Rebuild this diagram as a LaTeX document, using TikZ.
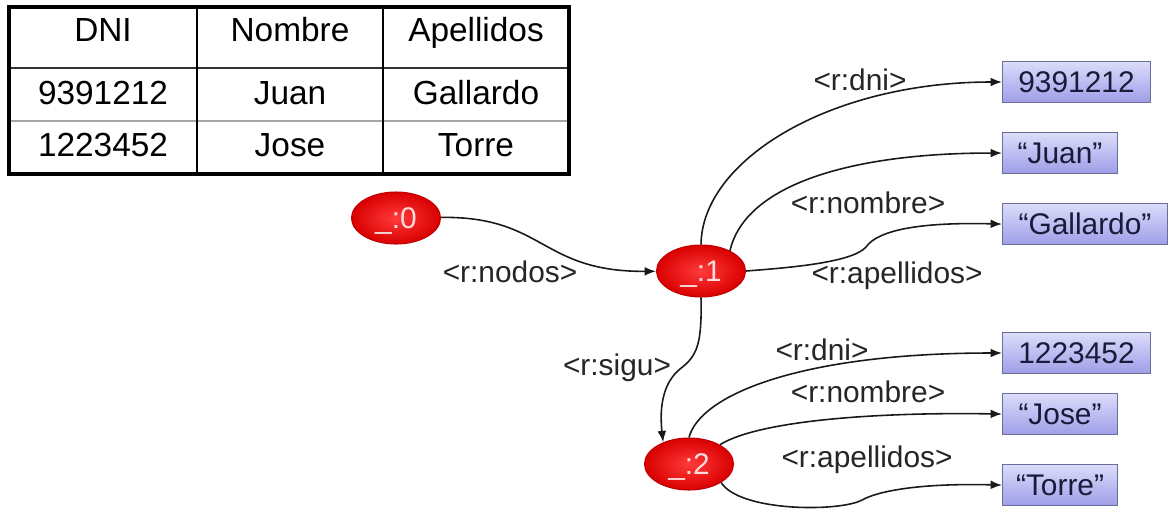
\documentclass[tikz,border=0pt]{standalone}
\usepackage{fontspec}
\setmainfont{Liberation Sans}
\usepackage{tikz}
\usetikzlibrary{arrows.meta, positioning, shapes.geometric}
\definecolor{blankred}{HTML}{D90000}
\definecolor{blanklight}{HTML}{FF3B3B}
\definecolor{blankborder}{HTML}{C00000}
\definecolor{blankink}{HTML}{FFDADA}
\definecolor{littop}{HTML}{DCDCFA}
\definecolor{litbottom}{HTML}{9E9EE8}
\definecolor{litborder}{HTML}{6C6C9C}
\definecolor{litink}{HTML}{1A1A3A}

\begin{document}
\begin{tikzpicture}[
		x=0.02cm, y=-0.02cm,
		texts/.style = {text=black, font=\fontsize{17}{20}\selectfont},
		celltexts/.style = {texts, font=\fontsize{19}{22}\selectfont, anchor=base, inner sep=0pt},
		labeltexts/.style = {texts, text=black!85, anchor=base, inner sep=0pt},
		blanknode/.style = {ellipse, minimum width=1.78cm, minimum height=1.04cm, inner sep=0pt, text depth=0pt, draw=blankborder, line width=0.6pt, inner color=blanklight, outer color=blankred, texts, text=blankink},
		literal/.style = {rectangle, minimum height=0.82cm, inner sep=0pt, text depth=0pt, draw=litborder, line width=0.6pt, top color=littop, bottom color=litbottom, texts, text=litink},
		link/.style = {draw=black!90, line width=0.9pt, -{Latex[length=6.5pt, width=5pt]}}
		]
		\useasboundingbox (0,0) rectangle (1168,511);
		
		\draw[line width=1pt, black!80] (9,68) -- (569,68);
		\draw[line width=0.8pt, black!35] (9,121) -- (569,121);
		\draw[line width=1pt] (197,7) -- (197,174);
		\draw[line width=1pt] (383,7) -- (383,174);
		\draw[line width=1.8pt] (9,7) rectangle (569,174);
		
		\node [celltexts] (hdni) at (103,41) {DNI};
		\node [celltexts] (hnombre) at (290,41) {Nombre};
		\node [celltexts] (hapellidos) at (476,41) {Apellidos};
		\node [celltexts] (cdniA) at (103,104) {9391212};
		\node [celltexts] (cnombreA) at (290,104) {Juan};
		\node [celltexts] (capellidosA) at (476,104) {Gallardo};
		\node [celltexts] (cdniB) at (103,156) {1223452};
		\node [celltexts] (cnombreB) at (290,156) {Jose};
		\node [celltexts] (capellidosB) at (476,156) {Torre};
		
		\node [blanknode] (blank0) at (396,218) {\_:0};
		\node [blanknode] (blank1) at (701,271) {\_:1};
		\node [blanknode] (blank2) at (689,464) {\_:2};
		
		\node [literal, minimum width=2.96cm, anchor=west] (dniA) at (1002,82) {9391212};
		\node [literal, minimum width=2.30cm, below = 0.58cm of dniA.south west, anchor=north west] (nombreA) {“Juan”};
		\node [literal, minimum width=3.30cm, below = 0.58cm of nombreA.south west, anchor=north west] (apellidosA) {“Gallardo”};
		\node [literal, minimum width=2.96cm, anchor=west] (dniB) at (1002,353) {1223452};
		\node [literal, minimum width=2.30cm, below = 0.38cm of dniB.south west, anchor=north west] (nombreB) {“Jose”};
		\node [literal, minimum width=2.30cm, below = 0.58cm of nombreB.south west, anchor=north west] (apellidosB) {“Torre”};
		
		\node [labeltexts] (lnodos) at (510,282) {<r:nodos>};
		\node [labeltexts] (ldniA) at (860,90) {<r:dni>};
		\node [labeltexts] (lnombreA) at (868,213) {<r:nombre>};
		\node [labeltexts] (lapellidosA) at (897,283) {<r:apellidos>};
		\node [labeltexts] (lsigu) at (617,375) {<r:sigu>};
		\node [labeltexts] (ldniB) at (822,360) {<r:dni>};
		\node [labeltexts] (lnombreB) at (868,402) {<r:nombre>};
		\node [labeltexts] (lapellidosB) at (867,467) {<r:apellidos>};
		
		\draw[link] (blank0) .. controls (545,216) and (540,272) .. (blank1);
		\draw[link] (blank1.north) .. controls (702,160) and (830,82) .. (dniA.west);
		\draw[link] (blank1.35) .. controls (745,185) and (850,153) .. (nombreA.west);
		\draw[link] (blank1.east) .. controls (785,268) and (852,263) .. (866,247) .. controls (878,230) and (920,222) .. (apellidosA.west);
		\draw[link] (blank1.south) .. controls (702,345) and (697,356) .. (680,369) .. controls (664,382) and (659,405) .. (blank2.140);
		\draw[link] (blank2.north) .. controls (700,395) and (800,353) .. (dniB.west);
		\draw[link] (blank2.32) .. controls (760,420) and (880,412) .. (nombreB.west);
		\draw[link] (blank2.-30) .. controls (740,512) and (840,512) .. (862,500) .. controls (878,491) and (920,483) .. (apellidosB.west);
		
		\end{tikzpicture}
\end{document}
